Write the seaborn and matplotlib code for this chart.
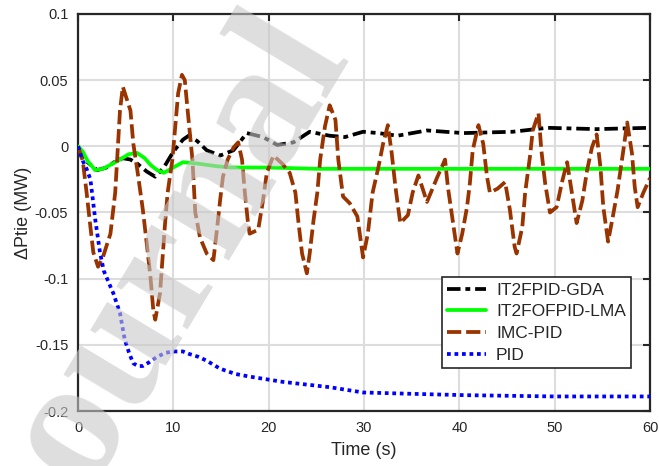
import numpy as np
import pandas as pd
import matplotlib
matplotlib.use("Agg")
import matplotlib.pyplot as plt
import seaborn as sns

# IT2FPID-GDA
t_gda = [0, 0.5, 1.0, 2.0, 3.0, 4.0, 4.7, 5.5, 6.2, 7.2, 8.1, 9.0, 10.0, 11.0, 11.6, 12.5, 13.5,
         14.9, 16.3, 17.7, 19.4, 20.9, 22.6, 24.3, 26.4, 28.0, 29.9, 31.5, 33.5, 36.6, 40.4,
         45.6, 49.2, 54.4, 60]
y_gda = [0, -0.006, -0.012, -0.018, -0.016, -0.011, -0.009, -0.010, -0.013, -0.019, -0.023, -0.016,
         -0.004, 0.005, 0.008, 0.004, -0.003, -0.007, -0.003, 0.010, 0.007, 0.001, 0.003, 0.011,
         0.008, 0.007, 0.011, 0.010, 0.008, 0.012, 0.010, 0.011, 0.014, 0.013, 0.014]

# IT2FOFPID-LMA
t_lma = [0, 0.5, 1.0, 1.8, 2.6, 3.4, 4.4, 5.3, 6.2, 7.0, 7.6, 8.3, 9.0, 10.0, 11.0, 12.5,
         14.5, 16.0, 18.0, 20.0, 25.0, 30.0, 40.0, 50.0, 60]
y_lma = [0, -0.004, -0.011, -0.018, -0.017, -0.014, -0.010, -0.006, -0.005, -0.009, -0.014, -0.018,
         -0.020, -0.016, -0.012, -0.013, -0.015, -0.016, -0.016, -0.016, -0.017, -0.017, -0.017,
         -0.017, -0.017]

# IMC-PID
t_imc = [0, 0.5, 0.9, 1.3, 1.6, 2.1, 2.6, 3.4, 3.9, 4.2, 4.4, 4.7, 5.5, 5.8, 6.3, 6.8, 7.2, 7.6,
         7.9, 8.1, 8.6, 9.1, 9.4, 9.9, 10.2, 10.5, 10.9, 11.2, 11.5, 12.0, 12.3, 12.8, 13.5, 14.2,
         14.6, 14.9, 15.2, 15.7, 16.3, 16.8, 17.2, 17.5, 17.8, 18.0, 18.9, 19.4, 19.8, 20.5, 21.4,
         22.2, 22.8, 23.1, 23.5, 24.0, 24.3, 24.7, 25.1, 25.4, 25.9, 26.4, 27.0, 27.3, 27.8, 28.5,
         29.3, 29.9, 30.4, 30.9, 31.5, 32.0, 32.5, 32.9, 33.3, 33.8, 34.6, 35.1, 35.7, 36.6, 37.7,
         38.5, 38.8, 39.3, 39.8, 40.3, 40.8, 41.1, 41.4, 42.0, 42.5, 42.9, 43.2, 44.0, 44.8, 45.3,
         45.8, 46.0, 46.6, 46.9, 47.4, 47.7, 48.3, 48.6, 49.0, 49.5, 50.2, 50.8, 51.3, 51.8, 52.3,
         52.9, 53.4, 53.9, 54.4, 54.8, 55.1, 55.6, 56.1, 56.6, 57.2, 57.6, 58.1, 58.4, 58.7, 59.3, 60]
y_imc = [0, -0.011, -0.035, -0.061, -0.080, -0.091, -0.084, -0.066, -0.035, 0.002, 0.027, 0.045,
         0.027, 0.002, -0.022, -0.048, -0.073, -0.099, -0.124, -0.131, -0.111, -0.061, -0.035,
         -0.010, 0.015, 0.040, 0.054, 0.050, 0.027, -0.010, -0.050, -0.069, -0.081, -0.086,
         -0.061, -0.041, -0.023, -0.010, -0.001, 0.003, -0.010, -0.035, -0.056, -0.066, -0.063,
         -0.041, -0.020, -0.007, -0.013, -0.020, -0.035, -0.056, -0.081, -0.096, -0.081, -0.056,
         -0.035, -0.010, 0.015, 0.031, 0.020, -0.010, -0.038, -0.043, -0.053, -0.084, -0.066,
         -0.035, -0.016, 0.002, 0.016, -0.005, -0.031, -0.058, -0.052, -0.035, -0.022, -0.042,
         -0.023, -0.010, -0.031, -0.056, -0.081, -0.066, -0.046, -0.028, -0.003, 0.016, 0.002,
         -0.023, -0.035, -0.032, -0.027, -0.048, -0.076, -0.081, -0.061, -0.035, -0.008, 0.012,
         0.025, -0.003, -0.028, -0.050, -0.046, -0.026, -0.012, -0.035, -0.058, -0.041, -0.018,
         -0.001, 0.009, -0.016, -0.046, -0.072, -0.053, -0.033, -0.003, 0.018, -0.005, -0.031,
         -0.046, -0.035, -0.024]

# PID
t_pid = [0, 0.5, 0.9, 1.3, 1.8, 2.3, 2.7, 3.4, 3.7, 4.4, 4.9, 5.4, 5.8, 6.3, 6.8, 7.5, 8.3, 9.2,
         10.0, 11.0, 11.7, 12.6, 13.5, 14.9, 16.5, 18.0, 21.5, 26.4, 29.9, 35.0, 40.4, 50.0, 60]
y_pid = [0, -0.011, -0.017, -0.025, -0.055, -0.080, -0.094, -0.106, -0.111, -0.126, -0.146, -0.157,
         -0.164, -0.166, -0.166, -0.163, -0.159, -0.156, -0.155, -0.155, -0.157, -0.159, -0.162,
         -0.168, -0.172, -0.174, -0.178, -0.182, -0.186, -0.187, -0.188, -0.189, -0.189]

x_ticks = [0, 10, 20, 30, 40, 50, 60]
y_ticks = [0.1, 0.05, 0, -0.05, -0.1, -0.15, -0.2]
y_tick_labels = ['0.1', '0.05', '0', '-0.05', '-0.1', '-0.15', '-0.2']

sns.set_style('white')
plt.rcParams['font.family'] = ['Liberation Sans', 'DejaVu Sans']

fig = plt.figure(figsize=(6.59, 4.66), dpi=100)
ax = fig.add_axes([0.1184, 0.118, 0.868, 0.852])

sns.lineplot(x=t_gda, y=y_gda, ax=ax, color='black', lw=2.7, label='IT2FPID-GDA', zorder=3)
sns.lineplot(x=t_lma, y=y_lma, ax=ax, color='#00ff00', lw=2.7, label='IT2FOFPID-LMA', zorder=4)
sns.lineplot(x=t_imc, y=y_imc, ax=ax, color='#993300', lw=2.7, label='IMC-PID', zorder=5)
sns.lineplot(x=t_pid, y=y_pid, ax=ax, color='#0000ff', lw=2.7, label='PID', zorder=6)
lines = ax.get_lines()
lines[0].set_linestyle((0, (3.6, 1.3, 1.3, 1.3)))
lines[1].set_linestyle('-')
lines[2].set_linestyle((0, (3.8, 1.3)))
lines[3].set_linestyle((0, (1, 1)))

ax.set_xlim(0, 60)
ax.set_ylim(-0.2, 0.1)
ax.set_xticks(x_ticks)
ax.set_yticks(y_ticks)
ax.set_yticklabels(y_tick_labels)
ax.grid(True, color='#dddddd', lw=1.5)
ax.set_axisbelow(True)
ax.tick_params(direction='in', length=5, width=1.5, top=True, right=True,
               labelsize=10.5, labelcolor='#262626', color='#262626', pad=7)
for s in ax.spines.values():
    s.set_color('#262626')
    s.set_linewidth(1.6)
ax.set_xlabel('Time (s)', fontsize=13, color='#262626', labelpad=5)
ax.set_ylabel('ΔPtie (MW)', fontsize=13, color='#262626', labelpad=2)

leg = ax.legend(loc='lower right', bbox_to_anchor=(0.967, 0.108), fontsize=12.5,
                frameon=True, fancybox=False, framealpha=1, borderpad=0.3,
                borderaxespad=0, handlelength=2.2, labelspacing=0.38, handletextpad=0.6)
leg.get_frame().set_edgecolor('#262626')
leg.get_frame().set_linewidth(1.2)

# watermark
fig.text(0.235, 0.385, 'Journal', rotation=59, ha='center', va='center', fontsize=130,
         family='Liberation Serif', fontweight='bold', color='#c8c8c8', alpha=0.6, zorder=10)

fig.savefig('out.png', dpi=100)
